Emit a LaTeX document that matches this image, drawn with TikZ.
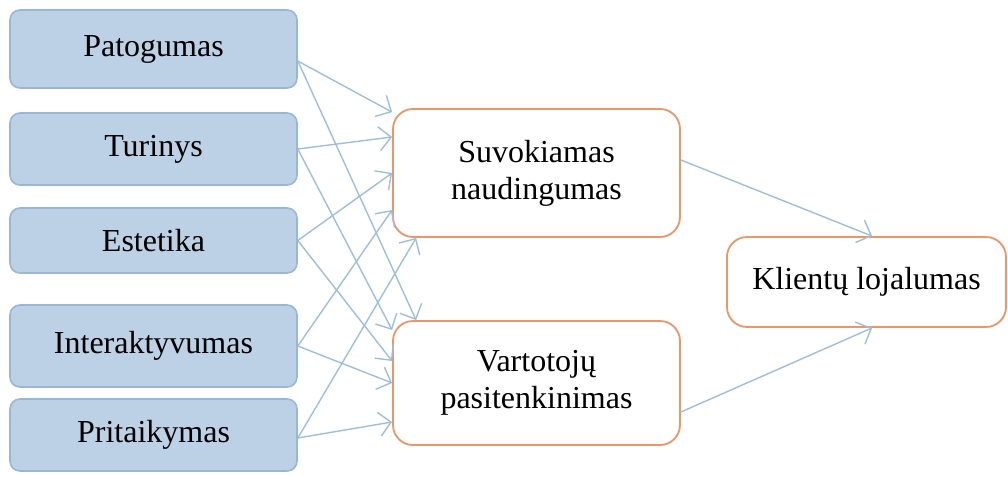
\documentclass[tikz,border=0pt]{standalone}
\usepackage{fontspec}
\setmainfont{Liberation Serif}
\usetikzlibrary{arrows.meta}
\definecolor{boxfill}{RGB}{188,209,230}
\definecolor{boxline}{RGB}{152,182,214}
\definecolor{orng}{RGB}{236,150,104}
\definecolor{arr}{RGB}{158,190,222}
\begin{document}
\begin{tikzpicture}[x=0.5pt,y=-0.5pt,
  inbox/.style={draw=boxline, fill=boxfill, line width=0.8pt, rounded corners=5pt,
    minimum width=143.5pt, inner sep=0pt, font=\fontsize{16}{18.5}\selectfont},
  midbox/.style={draw=orng, fill=white, line width=0.9pt, rounded corners=10pt,
    minimum width=143.5pt, align=center, inner sep=0pt, font=\fontsize{16}{18.5}\selectfont},
  conn/.style={draw=arr, line width=0.7pt, -{Straight Barb[length=6pt,width=12pt,line width=0.7pt]}}]
\useasboundingbox (0,0) rectangle (1008,477);
% left boxes
\node[inbox, minimum height=39pt] (pat) at (153.5,49) {Patogumas};
\node[inbox, minimum height=36pt] (tur) at (153.5,149) {Turinys};
\node[inbox, minimum height=32.5pt] (est) at (153.5,240.5) {Estetika};
\node[inbox, minimum height=41pt] (int) at (153.5,346) {Interaktyvumas};
\node[inbox, minimum height=36pt] (pri) at (153.5,435) {Pritaikymas};
% middle boxes
\node[midbox, minimum height=64pt] (suv) at (536.5,173) {Suvokiamas\\naudingumas};
\node[midbox, minimum height=62pt] (var) at (536.5,383) {Vartotojų\\pasitenkinimas};
% right box
\node[midbox, minimum width=139.5pt, minimum height=45pt] (kli) at (866.5,282) {Klientų lojalumas};
% connectors to suv
\draw[conn] ([yshift=-6pt]pat.east) -- ([yshift=-2pt]suv.north west);
\draw[conn] (tur.east) -- ([yshift=18pt]suv.west);
\draw[conn] (est.east) -- (suv.west);
\draw[conn] (int.east) -- ([yshift=-18.5pt]suv.west);
\draw[conn] ([yshift=-1.5pt]pri.east) -- ([xshift=12pt]suv.south west);
% connectors to var
\draw[conn] ([yshift=-6pt]pat.east) -- ([xshift=12pt]var.north west);
\draw[conn] (tur.east) -- ([yshift=26.5pt]var.west);
\draw[conn] (est.east) -- ([yshift=11pt]var.west);
\draw[conn] (int.east) -- (var.west);
\draw[conn] ([yshift=-1.5pt]pri.east) -- ([yshift=-19.5pt]var.west);
% connectors to kli
\draw[conn] ([yshift=6.5pt]suv.east) -- ([xshift=73pt]kli.north west);
\draw[conn] ([yshift=-14.5pt]var.east) -- ([xshift=73pt]kli.south west);
\end{tikzpicture}
\end{document}
